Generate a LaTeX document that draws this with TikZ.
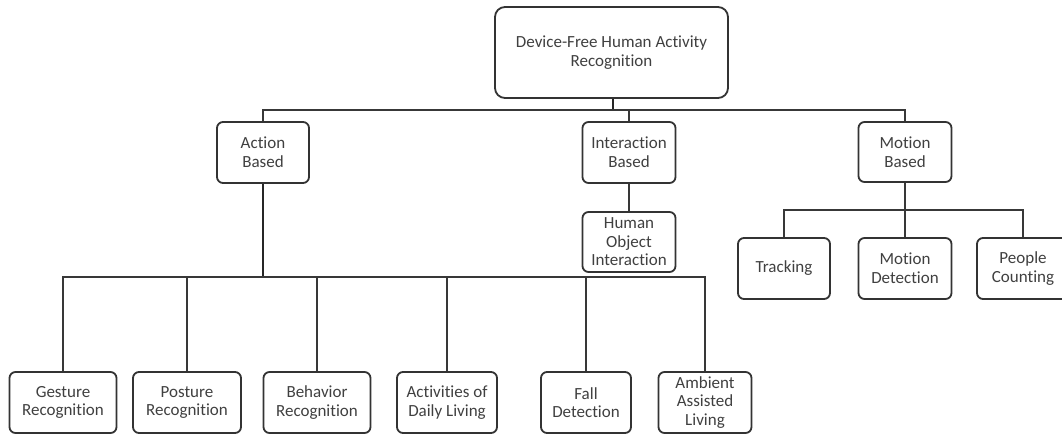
\documentclass[tikz,border=0pt]{standalone}
\usepackage{fontspec}
\setmainfont{Carlito}[Ligatures={NoCommon}]
\begin{document}
\begin{tikzpicture}[x=1pt,y=-1pt,
  box/.style={draw=black!80, line width=1.8pt, rounded corners=6pt, fill=white,
    align=center, text=black!75, font=\fontsize{17}{18.6}\selectfont,
    inner sep=0pt, minimum width=#1},
  box/.default=92pt,
  link/.style={draw=black!78, line width=2pt},
  stem/.style={draw=black!85, line width=2.4pt}]
\clip (0,0) rectangle (1062,434);
\fill[white] (0,0) rectangle (1062,434);
% nodes
\node[box=233pt, minimum height=91pt, rounded corners=10pt] (root) at (611.5,52.5) {Device-Free Human Activity\\Recognition};
\node[box, minimum height=61pt] (action) at (263,152.5) {Action\\Based};
\node[box=93pt, minimum height=61pt] (inter) at (629,152.5) {Interaction\\Based};
\node[box=93pt, minimum height=60pt] (motion) at (905,152) {Motion\\Based};
\node[box=93pt, minimum height=60pt] (hoi) at (629,242) {Human\\Object\\Interaction};
\node[box, minimum height=61pt] (track) at (784,268.5) {Tracking};
\node[box=93pt, minimum height=61pt] (mdet) at (905,268.5) {Motion\\Detection};
\node[box, minimum height=61pt] (people) at (1023,268.5) {People\\Counting};
\node[box=107pt, minimum height=61pt] (gest) at (63,402.5) {Gesture\\Recognition};
\node[box=108pt, minimum height=61pt] (post) at (187,402.5) {Posture\\Recognition};
\node[box=107pt, minimum height=61pt] (behav) at (317,402.5) {Behavior\\Recognition};
\node[box=100pt, minimum height=61pt] (adl) at (447,402.5) {Activities of\\Daily Living};
\node[box=90pt, minimum height=61pt] (fall) at (586,402.5) {Fall\\Detection};
\node[box=93pt, minimum height=61pt] (aal) at (705,402.5) {Ambient\\Assisted\\Living};
% junctions
\coordinate (j0) at (613,110);
\coordinate (j1) at (263,277);
\coordinate (j2) at (905,210);
% connectors
\draw[stem] (root.south -| j0) -- (j0);
\draw[link] (action.north) |- (j0) -| (motion.north);
\draw[link] (inter.north) -- (inter.north |- j0);
\draw[link] (inter.south) -- (hoi.north);
\draw[stem] (action.south) -- (j1);
\draw[link] (gest.north) |- (j1) -| (aal.north);
\draw[link] (post.north) -- (post.north |- j1);
\draw[link] (behav.north) -- (behav.north |- j1);
\draw[link] (adl.north) -- (adl.north |- j1);
\draw[link] (fall.north) -- (fall.north |- j1);
\draw[link] (motion.south) -- (j2);
\draw[link] (track.north) |- (j2) -| (people.north);
\draw[link] (mdet.north) -- (mdet.north |- j2);
\end{tikzpicture}
\end{document}
